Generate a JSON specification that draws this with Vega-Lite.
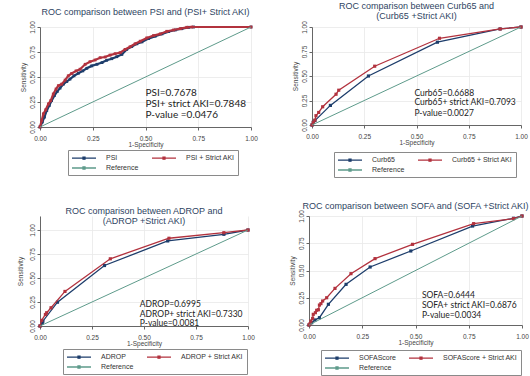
{
  "$schema": "https://vega.github.io/schema/vega-lite/v6.json",
  "padding": {"left": 17, "top": 1, "right": 0, "bottom": 0},
  "background": "white",
  "datasets": {
    "p1": [
      {"fpr": 0, "tpr": 0, "model": "PSI"},
      {"fpr": 0.011, "tpr": 0.05, "model": "PSI"},
      {"fpr": 0.021, "tpr": 0.099, "model": "PSI"},
      {"fpr": 0.032, "tpr": 0.165, "model": "PSI"},
      {"fpr": 0.044, "tpr": 0.215, "model": "PSI"},
      {"fpr": 0.055, "tpr": 0.264, "model": "PSI"},
      {"fpr": 0.068, "tpr": 0.314, "model": "PSI"},
      {"fpr": 0.082, "tpr": 0.356, "model": "PSI"},
      {"fpr": 0.095, "tpr": 0.389, "model": "PSI"},
      {"fpr": 0.111, "tpr": 0.429, "model": "PSI"},
      {"fpr": 0.127, "tpr": 0.455, "model": "PSI"},
      {"fpr": 0.142, "tpr": 0.479, "model": "PSI"},
      {"fpr": 0.161, "tpr": 0.512, "model": "PSI"},
      {"fpr": 0.182, "tpr": 0.538, "model": "PSI"},
      {"fpr": 0.203, "tpr": 0.561, "model": "PSI"},
      {"fpr": 0.222, "tpr": 0.587, "model": "PSI"},
      {"fpr": 0.245, "tpr": 0.611, "model": "PSI"},
      {"fpr": 0.27, "tpr": 0.627, "model": "PSI"},
      {"fpr": 0.294, "tpr": 0.644, "model": "PSI"},
      {"fpr": 0.316, "tpr": 0.667, "model": "PSI"},
      {"fpr": 0.34, "tpr": 0.683, "model": "PSI"},
      {"fpr": 0.364, "tpr": 0.703, "model": "PSI"},
      {"fpr": 0.388, "tpr": 0.726, "model": "PSI"},
      {"fpr": 0.411, "tpr": 0.776, "model": "PSI"},
      {"fpr": 0.435, "tpr": 0.805, "model": "PSI"},
      {"fpr": 0.459, "tpr": 0.832, "model": "PSI"},
      {"fpr": 0.483, "tpr": 0.851, "model": "PSI"},
      {"fpr": 0.514, "tpr": 0.884, "model": "PSI"},
      {"fpr": 0.546, "tpr": 0.908, "model": "PSI"},
      {"fpr": 0.578, "tpr": 0.931, "model": "PSI"},
      {"fpr": 0.609, "tpr": 0.954, "model": "PSI"},
      {"fpr": 0.641, "tpr": 0.97, "model": "PSI"},
      {"fpr": 0.672, "tpr": 0.983, "model": "PSI"},
      {"fpr": 0.704, "tpr": 0.997, "model": "PSI"},
      {"fpr": 0.728, "tpr": 1, "model": "PSI"},
      {"fpr": 1, "tpr": 1, "model": "PSI"},
      {"fpr": 0, "tpr": 0, "model": "PSI + Strict AKI"},
      {"fpr": 0.008, "tpr": 0.066, "model": "PSI + Strict AKI"},
      {"fpr": 0.016, "tpr": 0.132, "model": "PSI + Strict AKI"},
      {"fpr": 0.027, "tpr": 0.172, "model": "PSI + Strict AKI"},
      {"fpr": 0.04, "tpr": 0.231, "model": "PSI + Strict AKI"},
      {"fpr": 0.051, "tpr": 0.264, "model": "PSI + Strict AKI"},
      {"fpr": 0.063, "tpr": 0.33, "model": "PSI + Strict AKI"},
      {"fpr": 0.076, "tpr": 0.38, "model": "PSI + Strict AKI"},
      {"fpr": 0.087, "tpr": 0.413, "model": "PSI + Strict AKI"},
      {"fpr": 0.103, "tpr": 0.429, "model": "PSI + Strict AKI"},
      {"fpr": 0.119, "tpr": 0.469, "model": "PSI + Strict AKI"},
      {"fpr": 0.134, "tpr": 0.512, "model": "PSI + Strict AKI"},
      {"fpr": 0.15, "tpr": 0.535, "model": "PSI + Strict AKI"},
      {"fpr": 0.171, "tpr": 0.561, "model": "PSI + Strict AKI"},
      {"fpr": 0.19, "tpr": 0.578, "model": "PSI + Strict AKI"},
      {"fpr": 0.214, "tpr": 0.627, "model": "PSI + Strict AKI"},
      {"fpr": 0.237, "tpr": 0.653, "model": "PSI + Strict AKI"},
      {"fpr": 0.261, "tpr": 0.67, "model": "PSI + Strict AKI"},
      {"fpr": 0.285, "tpr": 0.693, "model": "PSI + Strict AKI"},
      {"fpr": 0.309, "tpr": 0.7, "model": "PSI + Strict AKI"},
      {"fpr": 0.332, "tpr": 0.719, "model": "PSI + Strict AKI"},
      {"fpr": 0.356, "tpr": 0.733, "model": "PSI + Strict AKI"},
      {"fpr": 0.38, "tpr": 0.743, "model": "PSI + Strict AKI"},
      {"fpr": 0.403, "tpr": 0.776, "model": "PSI + Strict AKI"},
      {"fpr": 0.427, "tpr": 0.802, "model": "PSI + Strict AKI"},
      {"fpr": 0.451, "tpr": 0.832, "model": "PSI + Strict AKI"},
      {"fpr": 0.475, "tpr": 0.858, "model": "PSI + Strict AKI"},
      {"fpr": 0.506, "tpr": 0.891, "model": "PSI + Strict AKI"},
      {"fpr": 0.538, "tpr": 0.914, "model": "PSI + Strict AKI"},
      {"fpr": 0.57, "tpr": 0.931, "model": "PSI + Strict AKI"},
      {"fpr": 0.601, "tpr": 0.957, "model": "PSI + Strict AKI"},
      {"fpr": 0.633, "tpr": 0.97, "model": "PSI + Strict AKI"},
      {"fpr": 0.665, "tpr": 0.983, "model": "PSI + Strict AKI"},
      {"fpr": 0.696, "tpr": 0.997, "model": "PSI + Strict AKI"},
      {"fpr": 0.72, "tpr": 1, "model": "PSI + Strict AKI"},
      {"fpr": 1, "tpr": 1, "model": "PSI + Strict AKI"},
      {"fpr": 0, "tpr": 0, "model": "Reference"},
      {"fpr": 1, "tpr": 1, "model": "Reference"}
    ],
    "p1t": [
      {"fpr": 0.5, "tpr": 0.34, "label": "PSI=0.7678"},
      {"fpr": 0.5, "tpr": 0.23, "label": "PSI+ strict AKI=0.7848"},
      {"fpr": 0.5, "tpr": 0.12, "label": "P-value =0.0476"}
    ],
    "p2": [
      {"fpr": 0, "tpr": 0, "model": "Curb65"},
      {"fpr": 0.006, "tpr": 0.027, "model": "Curb65"},
      {"fpr": 0.014, "tpr": 0.045, "model": "Curb65"},
      {"fpr": 0.088, "tpr": 0.2, "model": "Curb65"},
      {"fpr": 0.27, "tpr": 0.5, "model": "Curb65"},
      {"fpr": 0.6, "tpr": 0.845, "model": "Curb65"},
      {"fpr": 0.9, "tpr": 0.98, "model": "Curb65"},
      {"fpr": 1, "tpr": 1, "model": "Curb65"},
      {"fpr": 0, "tpr": 0, "model": "Curb65 + Strict AKI"},
      {"fpr": 0.006, "tpr": 0.027, "model": "Curb65 + Strict AKI"},
      {"fpr": 0.014, "tpr": 0.05, "model": "Curb65 + Strict AKI"},
      {"fpr": 0.019, "tpr": 0.095, "model": "Curb65 + Strict AKI"},
      {"fpr": 0.032, "tpr": 0.128, "model": "Curb65 + Strict AKI"},
      {"fpr": 0.051, "tpr": 0.186, "model": "Curb65 + Strict AKI"},
      {"fpr": 0.115, "tpr": 0.314, "model": "Curb65 + Strict AKI"},
      {"fpr": 0.128, "tpr": 0.355, "model": "Curb65 + Strict AKI"},
      {"fpr": 0.3, "tpr": 0.6, "model": "Curb65 + Strict AKI"},
      {"fpr": 0.61, "tpr": 0.885, "model": "Curb65 + Strict AKI"},
      {"fpr": 0.9, "tpr": 0.98, "model": "Curb65 + Strict AKI"},
      {"fpr": 1, "tpr": 1, "model": "Curb65 + Strict AKI"},
      {"fpr": 0, "tpr": 0, "model": "Reference"},
      {"fpr": 1, "tpr": 1, "model": "Reference"}
    ],
    "p2t": [
      {"fpr": 0.49, "tpr": 0.33, "label": "Curb65=0.6688"},
      {"fpr": 0.49, "tpr": 0.23, "label": "Curb65+ strict AKI=0.7093"},
      {"fpr": 0.49, "tpr": 0.12, "label": "P-value=0.0027"}
    ],
    "p3": [
      {"fpr": 0, "tpr": 0, "model": "ADROP"},
      {"fpr": 0.011, "tpr": 0.028, "model": "ADROP"},
      {"fpr": 0.014, "tpr": 0.05, "model": "ADROP"},
      {"fpr": 0.084, "tpr": 0.248, "model": "ADROP"},
      {"fpr": 0.31, "tpr": 0.63, "model": "ADROP"},
      {"fpr": 0.614, "tpr": 0.886, "model": "ADROP"},
      {"fpr": 0.884, "tpr": 0.955, "model": "ADROP"},
      {"fpr": 1, "tpr": 1, "model": "ADROP"},
      {"fpr": 0, "tpr": 0, "model": "ADROP + Strict AKI"},
      {"fpr": 0.008, "tpr": 0.059, "model": "ADROP + Strict AKI"},
      {"fpr": 0.026, "tpr": 0.12, "model": "ADROP + Strict AKI"},
      {"fpr": 0.032, "tpr": 0.138, "model": "ADROP + Strict AKI"},
      {"fpr": 0.053, "tpr": 0.19, "model": "ADROP + Strict AKI"},
      {"fpr": 0.12, "tpr": 0.36, "model": "ADROP + Strict AKI"},
      {"fpr": 0.338, "tpr": 0.7, "model": "ADROP + Strict AKI"},
      {"fpr": 0.62, "tpr": 0.914, "model": "ADROP + Strict AKI"},
      {"fpr": 0.884, "tpr": 0.972, "model": "ADROP + Strict AKI"},
      {"fpr": 1, "tpr": 1, "model": "ADROP + Strict AKI"},
      {"fpr": 0, "tpr": 0, "model": "Reference"},
      {"fpr": 1, "tpr": 1, "model": "Reference"}
    ],
    "p3t": [
      {"fpr": 0.48, "tpr": 0.225, "label": "ADROP=0.6995"},
      {"fpr": 0.48, "tpr": 0.125, "label": "ADROP+ strict AKI=0.7330"},
      {"fpr": 0.48, "tpr": 0.028, "label": "P-value=0.0081"}
    ],
    "p4": [
      {"fpr": 0, "tpr": 0, "model": "SOFAScore"},
      {"fpr": 0.0125, "tpr": 0.021, "model": "SOFAScore"},
      {"fpr": 0.028, "tpr": 0.046, "model": "SOFAScore"},
      {"fpr": 0.049, "tpr": 0.067, "model": "SOFAScore"},
      {"fpr": 0.091, "tpr": 0.19, "model": "SOFAScore"},
      {"fpr": 0.174, "tpr": 0.373, "model": "SOFAScore"},
      {"fpr": 0.287, "tpr": 0.532, "model": "SOFAScore"},
      {"fpr": 0.478, "tpr": 0.679, "model": "SOFAScore"},
      {"fpr": 0.768, "tpr": 0.908, "model": "SOFAScore"},
      {"fpr": 0.96, "tpr": 0.979, "model": "SOFAScore"},
      {"fpr": 1, "tpr": 1, "model": "SOFAScore"},
      {"fpr": 0, "tpr": 0, "model": "SOFAScore + Strict AKI"},
      {"fpr": 0.005, "tpr": 0.012, "model": "SOFAScore + Strict AKI"},
      {"fpr": 0.009, "tpr": 0.037, "model": "SOFAScore + Strict AKI"},
      {"fpr": 0.017, "tpr": 0.061, "model": "SOFAScore + Strict AKI"},
      {"fpr": 0.02, "tpr": 0.098, "model": "SOFAScore + Strict AKI"},
      {"fpr": 0.03, "tpr": 0.113, "model": "SOFAScore + Strict AKI"},
      {"fpr": 0.036, "tpr": 0.135, "model": "SOFAScore + Strict AKI"},
      {"fpr": 0.044, "tpr": 0.14, "model": "SOFAScore + Strict AKI"},
      {"fpr": 0.049, "tpr": 0.183, "model": "SOFAScore + Strict AKI"},
      {"fpr": 0.056, "tpr": 0.196, "model": "SOFAScore + Strict AKI"},
      {"fpr": 0.064, "tpr": 0.22, "model": "SOFAScore + Strict AKI"},
      {"fpr": 0.083, "tpr": 0.25, "model": "SOFAScore + Strict AKI"},
      {"fpr": 0.122, "tpr": 0.336, "model": "SOFAScore + Strict AKI"},
      {"fpr": 0.197, "tpr": 0.471, "model": "SOFAScore + Strict AKI"},
      {"fpr": 0.31, "tpr": 0.609, "model": "SOFAScore + Strict AKI"},
      {"fpr": 0.486, "tpr": 0.74, "model": "SOFAScore + Strict AKI"},
      {"fpr": 0.773, "tpr": 0.93, "model": "SOFAScore + Strict AKI"},
      {"fpr": 0.96, "tpr": 0.976, "model": "SOFAScore + Strict AKI"},
      {"fpr": 1, "tpr": 1, "model": "SOFAScore + Strict AKI"},
      {"fpr": 0, "tpr": 0, "model": "Reference"},
      {"fpr": 1, "tpr": 1, "model": "Reference"}
    ],
    "p4t": [
      {"fpr": 0.53, "tpr": 0.275, "label": "SOFA=0.6444"},
      {"fpr": 0.53, "tpr": 0.18, "label": "SOFA+ strict AKI=0.6876"},
      {"fpr": 0.53, "tpr": 0.09, "label": "P-value=0.0034"}
    ]
  },
  "resolve": {"scale": {"color": "independent"}, "legend": {"color": "independent"}},
  "spacing": 24,
  "vconcat": [
    {
      "spacing": 34,
      "resolve": {"scale": {"color": "independent"}, "legend": {"color": "independent"}},
      "hconcat": [
        {
          "width": 211, "height": 100,
          "title": {"text": "ROC comparison between PSI and (PSI+ Strict AKI)", "offset": 3.5},
          "data": {"name": "p1"},
          "encoding": {
            "x": {"field": "fpr", "type": "quantitative", "scale": {"domain": [0, 1], "nice": false}, "axis": {"title": "1-Specificity", "values": [0, 0.25, 0.5, 0.75, 1], "format": ".2f"}},
            "y": {"field": "tpr", "type": "quantitative", "scale": {"domain": [0, 1], "nice": false}, "axis": {"title": "Sensitivity", "values": [0, 0.25, 0.5, 0.75, 1], "format": ".2f"}}
          },
          "layer": [
            {"transform": [{"filter": "datum.model == 'PSI'"}], "mark": {"type": "line", "strokeWidth": 2.2, "point": {"filled": true, "size": 8, "shape": "square"}},
             "encoding": {"color": {"field": "model", "type": "nominal", "scale": {"domain": ["PSI", "PSI + Strict AKI", "Reference"], "range": ["#1d3d6b", "#b2323e", "#5e9b8b"]}, "legend": {"legendX": 28, "legendY": 123}}}},
            {"transform": [{"filter": "datum.model == 'PSI + Strict AKI'"}], "mark": {"type": "line", "strokeWidth": 2.2, "point": {"filled": true, "size": 8, "shape": "square"}},
             "encoding": {"color": {"field": "model", "type": "nominal", "scale": {"domain": ["PSI", "PSI + Strict AKI", "Reference"], "range": ["#1d3d6b", "#b2323e", "#5e9b8b"]}, "legend": {"legendX": 28, "legendY": 123}}}},
            {"transform": [{"filter": "datum.model == 'Reference'"}], "mark": {"type": "line", "strokeWidth": 1},
             "encoding": {"color": {"field": "model", "type": "nominal", "scale": {"domain": ["PSI", "PSI + Strict AKI", "Reference"], "range": ["#1d3d6b", "#b2323e", "#5e9b8b"]}, "legend": {"legendX": 28, "legendY": 123}}}},
            {"data": {"name": "p1t"}, "mark": {"type": "text", "align": "left", "baseline": "middle", "font": "Lato", "fontSize": 10, "color": "#222"}, "encoding": {"text": {"field": "label"}}}
          ]
        },
        {
          "width": 209, "height": 98,
          "title": {"text": ["ROC comparison between Curb65 and", "(Curb65 +Strict AKI)"], "offset": 0},
          "data": {"name": "p2"},
          "encoding": {
            "x": {"field": "fpr", "type": "quantitative", "scale": {"domain": [0, 1], "nice": false}, "axis": {"title": "1-Specificity", "values": [0, 0.25, 0.5, 0.75, 1], "format": ".2f"}},
            "y": {"field": "tpr", "type": "quantitative", "scale": {"domain": [0, 1], "nice": false}, "axis": {"title": "Sensitivity", "values": [0, 0.25, 0.5, 0.75, 1], "format": ".2f"}}
          },
          "layer": [
            {"transform": [{"filter": "datum.model == 'Curb65'"}], "mark": {"type": "line", "strokeWidth": 1.3, "point": {"filled": true, "size": 10, "shape": "square"}},
             "encoding": {"color": {"field": "model", "type": "nominal", "scale": {"domain": ["Curb65", "Curb65 + Strict AKI", "Reference"], "range": ["#1d3d6b", "#b2323e", "#5e9b8b"]}, "legend": {"legendX": 22, "legendY": 125}}}},
            {"transform": [{"filter": "datum.model == 'Curb65 + Strict AKI'"}], "mark": {"type": "line", "strokeWidth": 1.3, "point": {"filled": true, "size": 10, "shape": "square"}},
             "encoding": {"color": {"field": "model", "type": "nominal", "scale": {"domain": ["Curb65", "Curb65 + Strict AKI", "Reference"], "range": ["#1d3d6b", "#b2323e", "#5e9b8b"]}, "legend": {"legendX": 22, "legendY": 125}}}},
            {"transform": [{"filter": "datum.model == 'Reference'"}], "mark": {"type": "line", "strokeWidth": 1},
             "encoding": {"color": {"field": "model", "type": "nominal", "scale": {"domain": ["Curb65", "Curb65 + Strict AKI", "Reference"], "range": ["#1d3d6b", "#b2323e", "#5e9b8b"]}, "legend": {"legendX": 22, "legendY": 125}}}},
            {"data": {"name": "p2t"}, "mark": {"type": "text", "align": "left", "baseline": "middle", "font": "Lato", "fontSize": 8.5, "color": "#222"}, "encoding": {"text": {"field": "label"}}}
          ]
        }
      ]
    },
    {
      "spacing": 34,
      "resolve": {"scale": {"color": "independent"}, "legend": {"color": "independent"}},
      "hconcat": [
        {
          "width": 208, "height": 110,
          "title": {"text": ["ROC comparison between ADROP and", "(ADROP +Strict AKI)"], "offset": -10},
          "data": {"name": "p3"},
          "encoding": {
            "x": {"field": "fpr", "type": "quantitative", "scale": {"domain": [0, 1], "nice": false}, "axis": {"title": "1-Specificity", "values": [0, 0.25, 0.5, 0.75, 1], "format": ".2f"}},
            "y": {"field": "tpr", "type": "quantitative", "scale": {"domain": [0, 1.1458], "nice": false}, "axis": {"title": "Sensitivity", "values": [0, 0.25, 0.5, 0.75, 1], "format": ".2f", "titlePadding": 6}}
          },
          "layer": [
            {"transform": [{"filter": "datum.model == 'ADROP'"}], "mark": {"type": "line", "strokeWidth": 1.3, "point": {"filled": true, "size": 10, "shape": "square"}},
             "encoding": {"color": {"field": "model", "type": "nominal", "scale": {"domain": ["ADROP", "ADROP + Strict AKI", "Reference"], "range": ["#1d3d6b", "#b2323e", "#5e9b8b"]}, "legend": {"legendX": 23, "legendY": 133}}}},
            {"transform": [{"filter": "datum.model == 'ADROP + Strict AKI'"}], "mark": {"type": "line", "strokeWidth": 1.3, "point": {"filled": true, "size": 10, "shape": "square"}},
             "encoding": {"color": {"field": "model", "type": "nominal", "scale": {"domain": ["ADROP", "ADROP + Strict AKI", "Reference"], "range": ["#1d3d6b", "#b2323e", "#5e9b8b"]}, "legend": {"legendX": 23, "legendY": 133}}}},
            {"transform": [{"filter": "datum.model == 'Reference'"}], "mark": {"type": "line", "strokeWidth": 1},
             "encoding": {"color": {"field": "model", "type": "nominal", "scale": {"domain": ["ADROP", "ADROP + Strict AKI", "Reference"], "range": ["#1d3d6b", "#b2323e", "#5e9b8b"]}, "legend": {"legendX": 23, "legendY": 133}}}},
            {"data": {"name": "p3t"}, "mark": {"type": "text", "align": "left", "baseline": "middle", "font": "Lato", "fontSize": 8.5, "color": "#222"}, "encoding": {"text": {"field": "label"}}}
          ]
        },
        {
          "width": 213, "height": 109,
          "title": {"text": "ROC comparison between SOFA and (SOFA +Strict AKI)", "offset": -1.5},
          "data": {"name": "p4"},
          "encoding": {
            "x": {"field": "fpr", "type": "quantitative", "scale": {"domain": [0, 1], "nice": false}, "axis": {"title": "1-Specificity", "values": [0, 0.25, 0.5, 0.75, 1], "format": ".2f"}},
            "y": {"field": "tpr", "type": "quantitative", "scale": {"domain": [0, 1], "nice": false}, "axis": {"title": "Sensitivity", "values": [0, 0.25, 0.5, 0.75, 1], "format": ".2f"}}
          },
          "layer": [
            {"transform": [{"filter": "datum.model == 'SOFAScore'"}], "mark": {"type": "line", "strokeWidth": 1.3, "point": {"filled": true, "size": 10, "shape": "square"}},
             "encoding": {"color": {"field": "model", "type": "nominal", "scale": {"domain": ["SOFAScore", "SOFAScore + Strict AKI", "Reference"], "range": ["#1d3d6b", "#b2323e", "#5e9b8b"]}, "legend": {"legendX": 12, "legendY": 134}}}},
            {"transform": [{"filter": "datum.model == 'SOFAScore + Strict AKI'"}], "mark": {"type": "line", "strokeWidth": 1.3, "point": {"filled": true, "size": 10, "shape": "square"}},
             "encoding": {"color": {"field": "model", "type": "nominal", "scale": {"domain": ["SOFAScore", "SOFAScore + Strict AKI", "Reference"], "range": ["#1d3d6b", "#b2323e", "#5e9b8b"]}, "legend": {"legendX": 12, "legendY": 134}}}},
            {"transform": [{"filter": "datum.model == 'Reference'"}], "mark": {"type": "line", "strokeWidth": 1},
             "encoding": {"color": {"field": "model", "type": "nominal", "scale": {"domain": ["SOFAScore", "SOFAScore + Strict AKI", "Reference"], "range": ["#1d3d6b", "#b2323e", "#5e9b8b"]}, "legend": {"legendX": 12, "legendY": 134}}}},
            {"data": {"name": "p4t"}, "mark": {"type": "text", "align": "left", "baseline": "middle", "font": "Lato", "fontSize": 8.5, "color": "#222"}, "encoding": {"text": {"field": "label"}}}
          ]
        }
      ]
    }
  ],
  "config": {
    "font": "Liberation Sans",
    "view": {"stroke": null},
    "axis": {
      "domainColor": "#666", "tickColor": "#666", "tickSize": 3,
      "labelFontSize": 6.5, "labelColor": "#444", "labelPadding": 2,
      "labelFlush": false, "labelOverlap": false,
      "titleFontSize": 6.5, "titleFontWeight": "normal", "titleColor": "#444",
      "gridColor": "#e8e8e8", "gridWidth": 0.8
    },
    "axisX": {"titlePadding": 0, "labelPadding": 5},
    "axisY": {"labelAngle": 270, "titlePadding": 3},
    "title": {"fontSize": 9, "fontWeight": "normal", "color": "#2e4462", "frame": "group", "anchor": "middle", "lineHeight": 10},
    "legend": {
      "orient": "none", "columns": 2, "direction": "horizontal", "title": null,
      "strokeColor": "#8a8a8a", "fillColor": "white", "padding": 3,
      "labelFontSize": 7, "labelColor": "#333", "labelLimit": 200,
      "symbolType": "M-3,0H3M-0.25,-0.25H0.25V0.25H-0.25Z", "symbolSize": 64, "symbolStrokeWidth": 1.3,
      "symbolOffset": 8, "labelOffset": 17,
      "columnPadding": 10, "rowPadding": 1
    }
  }
}
